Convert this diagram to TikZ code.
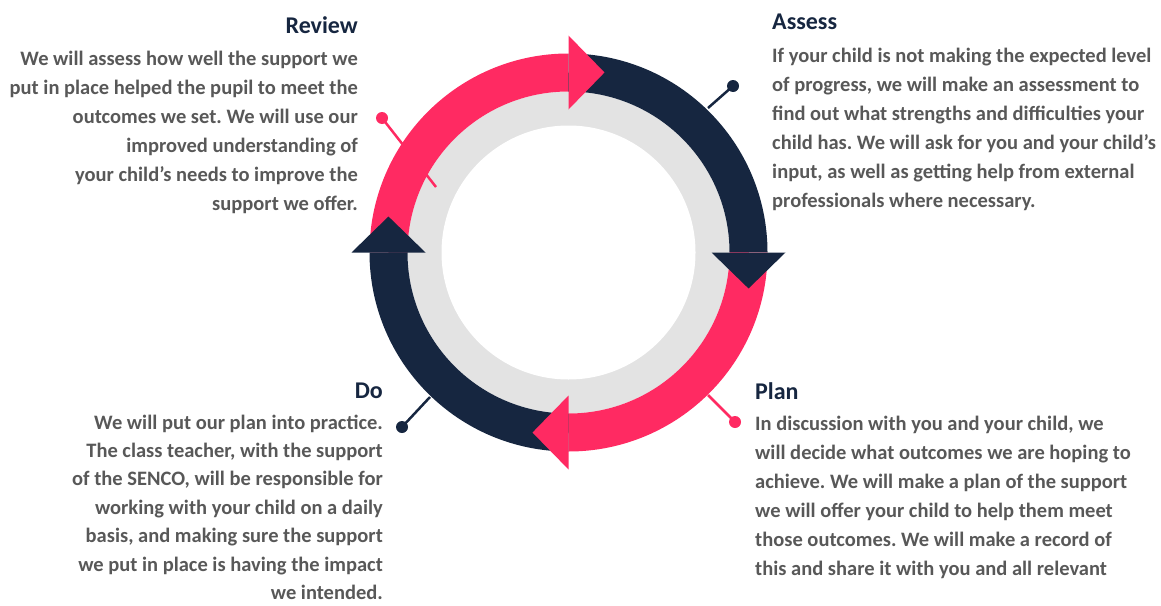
\documentclass[tikz,border=0pt]{standalone}
\usepackage{fontspec}
\setmainfont{Carlito}
\usetikzlibrary{positioning,calc}
\definecolor{cyclepink}{RGB}{255,42,98}
\definecolor{cyclenavy}{RGB}{22,38,64}
\definecolor{ringgray}{RGB}{227,227,227}
\definecolor{bodygray}{RGB}{88,88,88}
\frenchspacing
\tikzset{
  heading/.style={inner sep=0pt, font=\fontsize{24}{28}\selectfont\bfseries, text=cyclenavy},
  bodytext/.style={inner sep=0pt, font=\fontsize{20.5}{29}\selectfont\bfseries, text=bodygray},
  pin/.style={circle, inner sep=0pt, minimum size=12pt},
  stalk/.style={line width=2.5pt},
}

\begin{document}
\begin{tikzpicture}[x=1pt, y=1pt]
    \useasboundingbox (0,0) rectangle (1161,-605);
    \coordinate (c) at (568.5,-252.5);

    % Ring
    \fill[ringgray] (c) circle (161);
    \fill[white] (c) circle (127);
    \foreach \a/\col in {180/cyclepink, 90/cyclenavy, 0/cyclepink, -90/cyclenavy}
        \draw[line width=38pt, \col] ($(c)+(\a:180)$) arc (\a:\a-90:180);
    % Arrow heads on top
    \foreach \a/\col in {180/cyclepink, 90/cyclenavy, 0/cyclepink, -90/cyclenavy}
        \fill[\col] ($(c)+(\a-90:143)$) -- ($(c)+(\a-90:217)$) -- ($(c)+(\a-101.3:183.6)$) -- cycle;

    % Pins
    \node (reviewpin) [pin, fill=cyclepink] at (382,-118) {};
    \node (assesspin) [pin, fill=cyclenavy] at (733,-86) {};
    \node (planpin) [pin, fill=cyclepink] at (735,-422) {};
    \node (dopin) [pin, fill=cyclenavy] at (402,-427) {};
    \coordinate (reviewfoot) at (436,-187);
    \coordinate (assessfoot) at (708,-108);
    \coordinate (planfoot) at (708,-395);
    \coordinate (dofoot) at (430,-397);
    \draw[stalk, cyclepink] (reviewpin.center) -- (reviewfoot);
    \draw[stalk, cyclenavy] (assesspin.center) -- (assessfoot);
    \draw[stalk, cyclepink] (planpin.center) -- (planfoot);
    \draw[stalk, cyclenavy] (dopin.center) -- (dofoot);

    % Headings
    \node (reviewhead) [heading, anchor=east] at (358,-25) {Review};
    \node (assesshead) [heading, anchor=west] at (772,-22) {Assess};
    \node (dohead) [heading, anchor=east] at (383,-391) {Do};
    \node (planhead) [heading, anchor=west] at (755,-391) {Plan};

    % Texts
    \node (reviewtext) [bodytext, align=right, below=17pt of reviewhead.south east, anchor=north east]
        {We will assess how well the support we\\put in place helped the pupil to meet the\\outcomes we set. We will use our\\improved understanding of\\your child’s needs to improve the\\support we offer.};
    \node (assesstext) [bodytext, align=left, below=18pt of assesshead.south west, anchor=north west]
        {If your child is not making the expected level\\of progress, we will make an assessment to\\find out what strengths and difficulties your\\child has. We will ask for you and your child’s\\input, as well as getting help from external\\professionals where necessary.};
    \node (dotext) [bodytext, font=\fontsize{20.5}{28.4}\selectfont\bfseries, align=right, below=15.5pt of dohead.south east, anchor=north east]
        {We will put our plan into practice.\\The class teacher, with the support\\of the SENCO, will be responsible for\\working with your child on a daily\\basis, and making sure the support\\we put in place is having the impact\\we intended.};
    \node (plantext) [bodytext, align=left, below=16pt of planhead.south west, anchor=north west]
        {In discussion with you and your child, we\\will decide what outcomes we are hoping to\\achieve. We will make a plan of the support\\we will offer your child to help them meet\\those outcomes. We will make a record of\\this and share it with you and all relevant};
\end{tikzpicture}
\end{document}
